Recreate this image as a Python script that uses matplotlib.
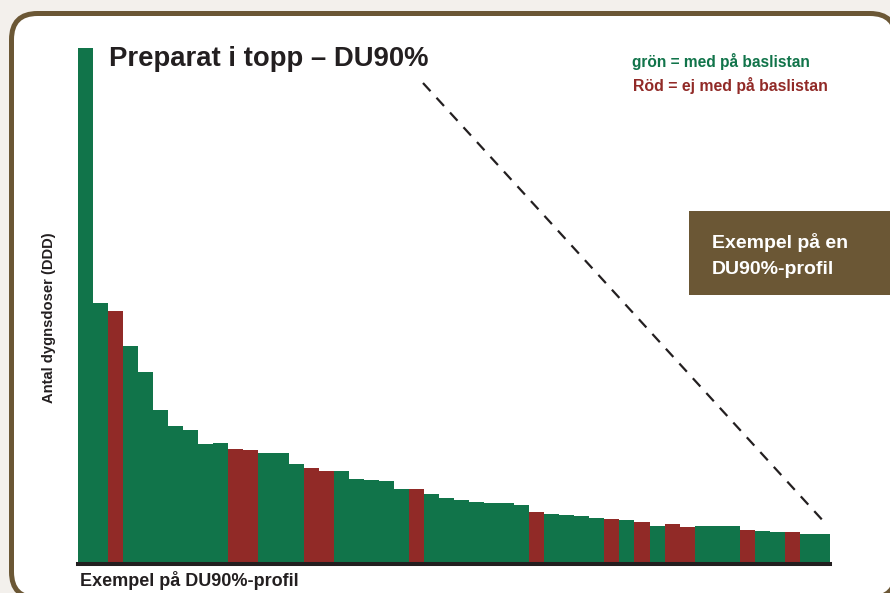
import matplotlib
matplotlib.use("Agg")
import matplotlib.pyplot as plt
from matplotlib.patches import FancyBboxPatch, Rectangle

plt.rcParams["font.family"] = ["Liberation Sans", "DejaVu Sans"]

GREEN = "#11744a"
RED = "#912a27"
BROWN = "#6b5735"
BG = "#f3f0ec"

# antal dygnsdoser per preparat (avläst, godtycklig skala)
ddd = [514, 259, 251, 216, 190, 152, 136, 132, 118, 119,
       113, 112, 109, 109, 98, 94, 91, 91, 83, 82,
       81, 73, 73, 68, 64, 62, 60, 59, 59, 57,
       50, 48, 47, 46, 44, 43, 42, 40, 36, 38,
       35, 36, 36, 36, 32, 31, 30, 30, 28, 28]
# 1 = med på baslistan (grön), 0 = ej med (röd)
baslista = [1, 1, 0, 1, 1, 1, 1, 1, 1, 1,
            0, 0, 1, 1, 1, 0, 0, 1, 1, 1,
            1, 1, 0, 1, 1, 1, 1, 1, 1, 1,
            0, 1, 1, 1, 1, 0, 1, 0, 1, 0,
            0, 1, 1, 1, 0, 1, 1, 0, 1, 1]

W, H = 890, 593
fig = plt.figure(figsize=(W / 100, H / 100), dpi=100, facecolor=BG)

# overlay in pixel coords (y from top)
ov = fig.add_axes([0, 0, 1, 1])
ov.set_xlim(0, W)
ov.set_ylim(H, 0)
ov.axis("off")

frame = FancyBboxPatch((11.5, 13.5), 884.5, 584.5,
                       boxstyle="round,pad=0,rounding_size=26",
                       facecolor="white", edgecolor=BROWN, linewidth=3.6)
ov.add_patch(frame)

ov.add_patch(Rectangle((689, 211), 220, 84, facecolor=BROWN, edgecolor="none"))
ov.text(712, 243, "Exempel på en", color="white",
        fontsize=14, fontweight="bold", va="center", ha="left")
ov.text(712, 270, "DU90%-profil", color="white",
        fontsize=14, fontweight="bold", va="center", ha="left")

ov.text(109, 59, "Preparat i topp – DU90%", fontsize=19.8, fontweight="bold",
        color="#231f20", va="center", ha="left")
ov.text(632, 62, "grön = med på baslistan", fontsize=11.2, fontweight="bold",
        color=GREEN, va="center", ha="left")
ov.text(633, 85, "Röd = ej med på baslistan", fontsize=11.4, fontweight="bold",
        color=RED, va="center", ha="left")

ov.plot([423, 826], [83, 524], color="#231f20", linewidth=1.6,
        dashes=(5, 4))

ov.text(49, 318, "Antal dygnsdoser (DDD)", rotation=90, fontsize=10.6,
        fontweight="bold", color="#231f20", va="center", ha="center")
ov.text(80, 580, "Exempel på DU90%-profil", fontsize=13, fontweight="bold",
        color="#231f20", va="center", ha="left")

# bar chart
ax = fig.add_axes([78 / W, (H - 564) / H, 752 / W, 516 / H])
ax.set_facecolor("none")
x = list(range(len(ddd)))
colors = [GREEN if b else RED for b in baslista]
ax.bar(x, ddd, width=1.0, align="edge", color=colors, linewidth=0)
ax.set_xlim(0, len(ddd))
ax.set_ylim(-2, 514)
for s in ["top", "right", "left"]:
    ax.spines[s].set_visible(False)
ax.spines["bottom"].set_linewidth(2.9)
ax.spines["bottom"].set_color("#231f20")
ax.set_xticks([])
ax.set_yticks([])

fig.savefig("out.png", dpi=100, facecolor=BG)
